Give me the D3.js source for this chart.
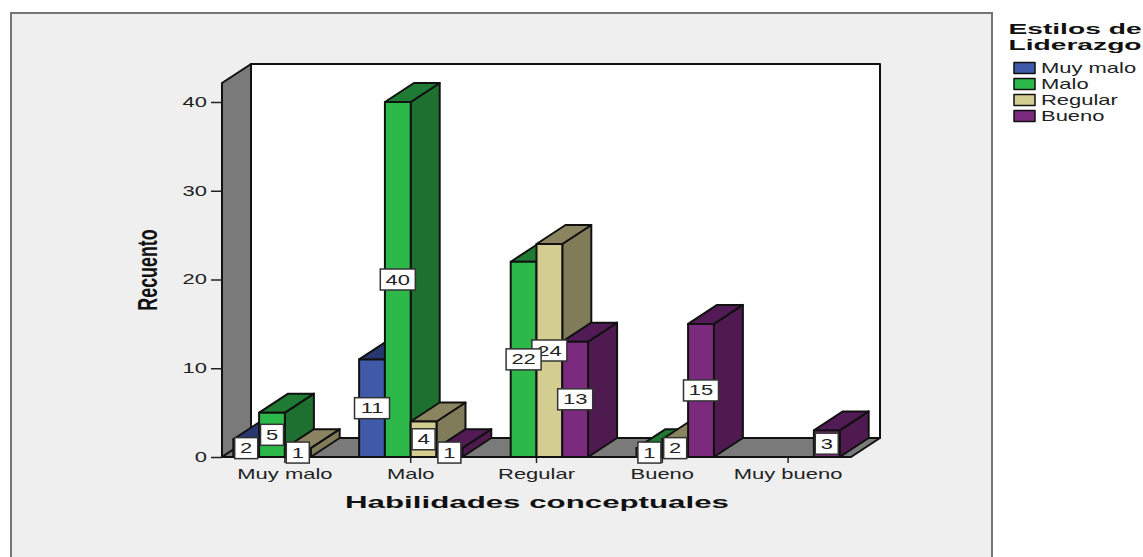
<!DOCTYPE html>
<html>
<head>
<meta charset="utf-8">
<script src="https://cdnjs.cloudflare.com/ajax/libs/d3/7.9.0/d3.min.js"></script>
<style>
html,body{margin:0;padding:0;background:#fff;}
svg{display:block;}
text{font-family:"Liberation Sans",Arial,sans-serif;}
</style>
</head>
<body>
<div id="chart"></div>
<script>
// Clustered 3D bar chart of counts per skill rating and leadership style.
const categories = ["Muy malo", "Malo", "Regular", "Bueno", "Muy bueno"];
const seriesNames = ["Muy malo", "Malo", "Regular", "Bueno"];
const muyMalo = [2, 11, 0, 0, 0];
const malo = [5, 40, 22, 1, 0];
const regular = [1, 4, 24, 2, 0];
const bueno = [0, 1, 13, 15, 3];
const seriesValues = [muyMalo, malo, regular, bueno];
const yTicks = [0, 10, 20, 30, 40];
const frontColors = ["#3f5aa9", "#2db84a", "#d4cd91", "#7b2a7e"];
const sideColors = ["#2b3d73", "#1d7030", "#807c5a", "#4e1a50"];
const topColors = ["#26386f", "#1f7a33", "#8a8560", "#521b55"];

const W = 1143, H = 557;
const depthX = 29, depthY = 19;
const textStretch = 1.57;

const svg = d3.select("#chart").append("svg").attr("width", W).attr("height", H);

// Outer chart panel
svg.append("rect").attr("x", 11).attr("y", 13).attr("width", 981).attr("height", 560)
  .attr("fill", "#efefef").attr("stroke", "#757575").attr("stroke-width", 2);

const y = d3.scaleLinear().domain([0, 40]).range([457, 102]);
const x = d3.scaleBand().domain(categories).range([222, 851]);
const xs = d3.scaleBand().domain(seriesNames).range([0, x.bandwidth() * 0.82]);
const groupOffset = (x.bandwidth() - xs.range()[1]) / 2;

const floorY = y(0);
const left = x.range()[0], right = x.range()[1];
const wallTop = 83;
const poly = pts => pts.map(p => p.join(",")).join(" ");
const applyEdge = (s, w) => s.attr("stroke", "#111").attr("stroke-width", w || 2).attr("stroke-linejoin", "round");

// Back wall, left wall and floor
const box = svg.append("g");
applyEdge(box.append("polygon")
  .attr("points", poly([[left + depthX, wallTop - depthY], [right + depthX, wallTop - depthY], [right + depthX, floorY - depthY], [left + depthX, floorY - depthY]]))
  .attr("fill", "#fff"));
applyEdge(box.append("polygon")
  .attr("points", poly([[left, wallTop], [left + depthX, wallTop - depthY], [left + depthX, floorY - depthY], [left, floorY]]))
  .attr("fill", "#7a7a7a"));
applyEdge(box.append("polygon")
  .attr("points", poly([[left, floorY], [left + depthX, floorY - depthY], [right + depthX, floorY - depthY], [right, floorY]]))
  .attr("fill", "#7a7a7a"));

// Value axis
const yAxis = svg.append("g").attr("transform", `translate(${left},0)`)
  .call(d3.axisLeft(y).tickValues(yTicks).tickSize(11));
yAxis.select(".domain").remove();
yAxis.selectAll("line").attr("stroke", "#222").attr("stroke-width", 1.5);
yAxis.selectAll("text").attr("x", 0).attr("font-size", 14).attr("fill", "#222")
  .attr("transform", `translate(-15,0) scale(${textStretch},1)`);

// Category axis
const xAxis = svg.append("g").attr("transform", `translate(0,${floorY})`)
  .call(d3.axisBottom(x).tickSize(6));
xAxis.select(".domain").remove();
xAxis.selectAll("line").attr("stroke", "#222").attr("stroke-width", 1.5);
xAxis.selectAll("text").attr("y", 0).attr("dy", 0).attr("font-size", 14).attr("fill", "#222")
  .attr("transform", `translate(0,21.5) scale(${textStretch},1)`);

// Bars, left to right, collecting a value box for each
const bars = svg.append("g");
const labels = [];
categories.forEach((c, ci) => {
  seriesNames.forEach((s, si) => {
    const v = seriesValues[si][ci];
    if (!v) return;
    const x0 = x(c) + groupOffset + xs(s), x1 = x0 + xs.bandwidth();
    const yTop = y(v);
    const g = bars.append("g");
    applyEdge(g.append("polygon")
      .attr("points", poly([[x1, yTop], [x1 + depthX, yTop - depthY], [x1 + depthX, floorY - depthY], [x1, floorY]]))
      .attr("fill", sideColors[si]));
    applyEdge(g.append("polygon")
      .attr("points", poly([[x0, yTop], [x0 + depthX, yTop - depthY], [x1 + depthX, yTop - depthY], [x1, yTop]]))
      .attr("fill", topColors[si]));
    applyEdge(g.append("rect")
      .attr("x", x0).attr("y", yTop).attr("width", x1 - x0).attr("height", floorY - yTop)
      .attr("fill", frontColors[si]));
    labels.push({v, cx: (x0 + x1) / 2, cy: y(v / 2)});
  });
});

// Value boxes: earlier series sit over later ones where they collide
const labelG = svg.append("g");
labels.slice().reverse().forEach(d => {
  const w = String(d.v).length > 1 ? 35 : 23, h = 21;
  labelG.append("rect").attr("x", d.cx - w / 2).attr("y", d.cy - h / 2)
    .attr("width", w).attr("height", h).attr("fill", "#fff").attr("stroke", "#333").attr("stroke-width", 1.5);
  labelG.append("text")
    .attr("transform", `translate(${d.cx},${d.cy + 5}) scale(${textStretch},1)`)
    .attr("text-anchor", "middle").attr("font-size", 14).attr("fill", "#222").text(d.v);
});

// Axis titles
svg.append("text").attr("transform", "translate(537,508) scale(1.84,1)")
  .attr("text-anchor", "middle").attr("font-size", 17).attr("font-weight", "bold").attr("fill", "#111")
  .text("Habilidades conceptuales");
svg.append("text").attr("transform", "translate(157,270) rotate(-90) scale(1.05,1.6)")
  .attr("text-anchor", "middle").attr("font-size", 17).attr("font-weight", "bold").attr("fill", "#111")
  .text("Recuento");

// Legend
svg.append("text").attr("transform", "translate(1075,33.5) scale(1.88,1)")
  .attr("text-anchor", "middle").attr("font-size", 15).attr("font-weight", "bold").attr("fill", "#111").text("Estilos de");
svg.append("text").attr("transform", "translate(1075,49.5) scale(1.88,1)")
  .attr("text-anchor", "middle").attr("font-size", 15).attr("font-weight", "bold").attr("fill", "#111").text("Liderazgo");
const legendY = d3.scalePoint().domain(seriesNames).range([68, 116]);
seriesNames.forEach((s, i) => {
  applyEdge(svg.append("rect").attr("x", 1014).attr("y", legendY(s) - 5.5).attr("width", 21).attr("height", 11)
    .attr("fill", frontColors[i]), 1.5);
  svg.append("text").attr("transform", `translate(1041,${legendY(s) + 5}) scale(${textStretch},1)`)
    .attr("font-size", 14).attr("fill", "#222").text(s);
});
</script>
</body>
</html>
